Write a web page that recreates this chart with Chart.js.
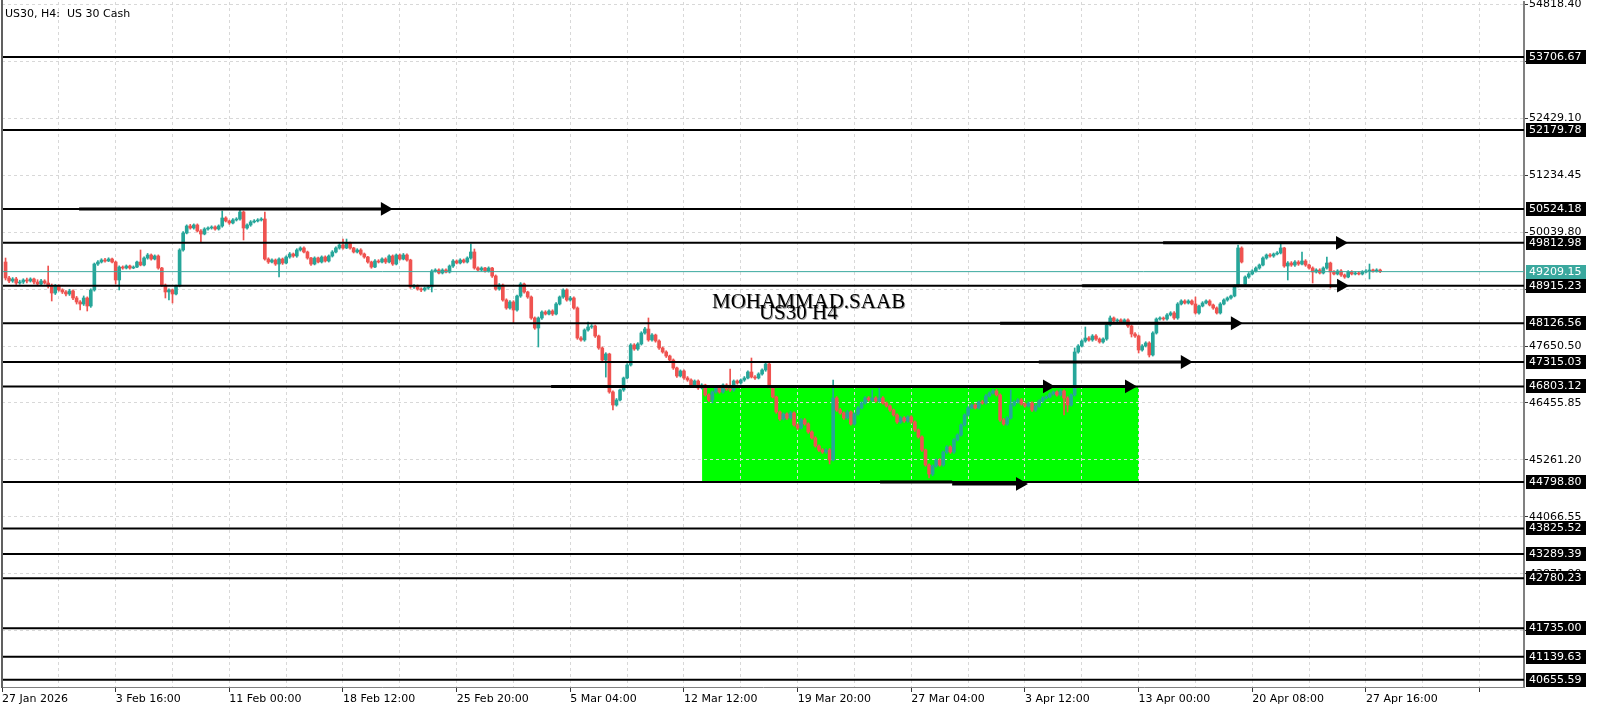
<!DOCTYPE html>
<html lang="en">
<head>
  <title>US30, H4</title>
  <meta charset="utf-8">
  <script src="https://cdn.jsdelivr.net/npm/chart.js@4.4.1/dist/chart.umd.min.js"></script>
  <style>
    body { margin: 0; background: #fff; }
    canvas { display: block; }
  </style>
</head>
<body>
  <canvas id="chart" width="1600" height="711"></canvas>
  <script>
    // H4 candles (bar 1 = first candle on the left)
    var opens = [49411,49076,49013,49055,48971,48992,49034,49013,49055,48992,
      48950,49013,48971,48908,48761,48908,48825,48783,48741,48804,
      48657,48573,48531,48657,48489,48825,49369,49411,49453,49432,
      49474,49411,49034,49306,49285,49327,49285,49306,49411,49348,
      49495,49558,49474,49537,49285,48929,48783,48825,48741,48908,
      49663,50019,50166,50124,50187,50061,49998,50103,50124,50145,
      50103,50166,50334,50271,50229,50292,50313,50459,50124,50187,
      50250,50271,50292,50313,49474,49411,49453,49369,49474,49390,
      49516,49579,49537,49663,49705,49621,49495,49369,49495,49411,
      49516,49432,49537,49621,49705,49768,49705,49810,49705,49621,
      49663,49579,49516,49411,49306,49432,49411,49474,49411,49537,
      49369,49558,49474,49558,49453,48887,48908,48845,48825,48866,
      48887,49222,49244,49181,49244,49202,49327,49432,49390,49453,
      49411,49495,49621,49285,49244,49285,49223,49285,49118,48845,
      48929,48615,48447,48573,48405,48698,48950,48783,48678,48238,
      48028,48238,48363,48321,48384,48321,48531,48678,48825,48615,
      48657,48447,47818,47777,47986,48049,48070,47860,47609,47357,
      47483,46687,46414,46519,46729,46980,47252,47672,47588,47693,
      47923,48007,47777,47881,47756,47609,47525,47441,47357,47190,
      47022,47127,46980,46938,46833,46917,46771,46833,46624,46519,
      46687,46771,46687,46833,46750,46729,46917,46875,46938,46980,
      47106,47001,46980,47064,47148,47273,46792,46582,46268,46121,
      46226,46142,46247,45995,45932,46100,46016,45848,45723,45555,
      45471,45429,45471,45261,46561,46309,46247,46142,46268,46016,
      46226,46351,46456,46561,46519,46561,46498,46561,46456,46393,
      46309,46205,46058,46142,46079,46163,46058,45890,45744,45471,
      45156,44967,45135,45261,45156,45429,45534,45429,45681,45786,
      45995,46205,46351,46414,46351,46477,46456,46603,46666,46708,
      46624,46100,46016,46142,46414,46477,46519,46435,46393,46456,
      46309,46393,46498,46561,46582,46645,46687,46624,46708,46561,
      46414,46624,47525,47651,47756,47818,47777,47860,47797,47735,
      47797,48091,48238,48175,48196,48154,48196,48070,47902,47860,
      47567,47651,47714,47462,47923,48217,48238,48217,48301,48343,
      48238,48531,48594,48552,48594,48531,48343,48489,48552,48594,
      48510,48447,48343,48531,48615,48657,48699,48908,49705,48950,
      49097,49160,49223,49285,49348,49495,49558,49537,49579,49600,
      49705,49327,49390,49348,49411,49369,49432,49348,49285,49202,
      49244,49181,49285,49390,49202,49160,49223,49139,49097,49202,
      49160,49181,49160,49202,49223,49244,49223,49244];

    var highs = [49495,49110,49085,49090,49030,49060,49075,49080,49075,49040,
      49050,49040,49327,48950,48940,48935,48850,48810,48840,48830,
      48690,48600,48700,48680,48850,49390,49440,49480,49490,49500,
      49495,49430,49330,49330,49350,49345,49330,49430,49663,49520,
      49590,49580,49560,49560,49300,48950,48850,48845,48930,49690,
      50050,50190,50200,50210,50210,50090,50130,50150,50170,50170,
      50190,50480,50360,50290,50320,50340,50501,50480,50210,50280,
      50300,50320,50340,50459,49500,49480,49475,49500,49495,49540,
      49610,49600,49690,49730,49730,49640,49510,49520,49515,49540,
      49540,49560,49650,49730,49800,49893,49893,49830,49720,49690,
      49690,49600,49530,49430,49460,49460,49500,49500,49560,49560,
      49580,49580,49590,49580,49470,48940,48930,48870,48890,48910,
      49250,49270,49270,49270,49270,49350,49460,49455,49480,49475,
      49520,49789,49684,49310,49310,49300,49310,49300,49140,48960,
      48950,48640,48600,48600,48720,48980,48970,48800,48700,48260,
      48260,48390,48390,48410,48410,48560,48700,48850,48850,48690,
      48680,48470,47850,48010,48154,48100,48090,47880,47630,47510,
      47500,46710,46550,46750,47000,47280,47700,47700,47720,47950,
      48040,48238,47910,47900,47780,47630,47550,47460,47380,47210,
      47150,47150,47010,46960,46940,46940,46860,46850,46650,46710,
      46800,46800,46860,46860,47169,46940,46940,46960,47010,47130,
      47399,47030,47090,47170,47300,47300,46810,46600,46290,46250,
      46250,46280,46270,46020,46130,46130,46040,45870,45750,45580,
      45500,45500,45500,46938,46590,46340,46270,46300,46290,46250,
      46380,46480,46590,46590,46729,46590,46771,46590,46480,46420,
      46330,46230,46170,46170,46190,46190,46080,45910,45770,45490,
      45180,45160,45290,45290,45450,45560,45560,45710,45810,46020,
      46230,46380,46440,46440,46500,46510,46630,46690,46740,46740,
      46650,46130,46170,46729,46500,46550,46550,46460,46480,46480,
      46420,46520,46590,46610,46670,46710,46710,46740,46730,46590,
      46650,47609,47680,47780,48049,47850,47890,47890,47820,47820,
      48120,48280,48260,48220,48220,48220,48220,48090,47930,47880,
      47680,47740,47740,47950,48240,48260,48260,48330,48370,48370,
      48560,48620,48620,48620,48620,48678,48510,48580,48620,48620,
      48530,48470,48560,48640,48680,48720,48930,49768,49730,49120,
      49190,49250,49310,49370,49520,49580,49590,49600,49630,49810,
      49720,49420,49420,49440,49440,49621,49460,49370,49310,49270,
      49270,49310,49516,49410,49230,49250,49250,49160,49230,49230,
      49210,49210,49230,49250,49369,49265,49270,49265];

    var lows = [49034,48980,48985,48940,48945,48960,48975,48990,48950,48915,
      48930,48950,48866,48594,48730,48800,48750,48700,48710,48620,
      48530,48405,48500,48384,48460,48800,49340,49390,49410,49420,
      49390,48950,48825,49260,49265,49260,49270,49290,49330,49330,
      49470,49450,49455,49260,48900,48657,48615,48552,48720,48890,
      49640,50000,50100,50100,50040,49830,49980,50080,50100,50080,
      50080,50140,50250,50200,50210,50270,50290,49873,50100,50160,
      50230,50250,50270,49450,49380,49390,49340,49097,49360,49370,
      49490,49510,49510,49640,49600,49470,49340,49350,49390,49390,
      49410,49410,49515,49600,49680,49680,49690,49680,49600,49600,
      49555,49490,49385,49280,49290,49390,49390,49380,49390,49340,
      49350,49450,49455,49430,48860,48860,48820,48790,48800,48840,
      48783,49200,49160,49160,49180,49180,49300,49370,49370,49390,
      49390,49470,49260,49220,49220,49200,49200,49090,48820,48820,
      48590,48420,48420,48133,48380,48670,48760,48650,48210,48000,
      47630,48210,48300,48300,48290,48300,48510,48650,48590,48590,
      48420,47790,47750,47750,47960,48020,47830,47580,47330,46999,
      46660,46309,46390,46500,46700,46960,47230,47560,47560,47670,
      47900,47750,47750,47730,47580,47500,47410,47330,47160,46990,
      47000,46950,46910,46800,46810,46740,46750,46600,46490,46456,
      46660,46660,46660,46720,46700,46700,46850,46850,46910,46960,
      46980,46950,46960,47040,47120,46770,46560,46240,46090,46100,
      46110,46120,45970,45900,45910,45990,45820,45700,45530,45440,
      45400,45400,45178,45240,46280,46220,46110,46120,45990,45990,
      46200,46330,46430,46490,46490,46470,46470,46430,46370,46280,
      46180,46030,46030,46050,46050,46030,45860,45720,45440,45130,
      44884,44930,45110,45130,45130,45400,45400,45400,45660,45760,
      45970,46180,46330,46330,46330,46430,46430,46580,46640,46600,
      46070,45990,45990,46120,46390,46450,46410,46370,46370,46280,
      46280,46370,46470,46540,46560,46620,46600,46600,46205,46268,
      46390,46600,47500,47630,47730,47750,47750,47770,47710,47710,
      47770,48070,48150,48150,48130,48130,48040,47839,47830,47504,
      47540,47630,47420,47440,47900,48190,48190,48190,48280,48210,
      48210,48510,48530,48530,48510,48320,48320,48470,48530,48490,
      48420,48320,48320,48510,48590,48630,48680,48890,49390,48930,
      49070,49140,49200,49260,49330,49470,49510,49510,49560,49580,
      49300,49034,49320,49320,49340,49350,49320,49260,48971,49180,
      49160,49160,49260,48866,49140,49140,49110,49070,49080,49140,
      49140,49140,49140,49180,49055,49200,49200,49190];

    var closes = [49076,49013,49055,48971,48992,49034,49013,49055,48992,48950,
      49013,48971,48908,48761,48908,48825,48783,48741,48804,48657,
      48573,48531,48657,48489,48825,49369,49411,49453,49432,49474,
      49411,49034,49306,49285,49327,49285,49306,49411,49348,49495,
      49558,49474,49537,49285,48929,48783,48825,48741,48908,49663,
      50019,50166,50124,50187,50061,49998,50103,50124,50145,50103,
      50166,50334,50271,50229,50292,50313,50459,50124,50187,50250,
      50271,50292,50313,49474,49411,49453,49369,49474,49390,49516,
      49579,49537,49663,49705,49621,49495,49369,49495,49411,49516,
      49432,49537,49621,49705,49768,49705,49810,49705,49621,49663,
      49579,49516,49411,49306,49432,49411,49474,49411,49537,49369,
      49558,49474,49558,49453,48887,48908,48845,48825,48866,48887,
      49222,49244,49181,49244,49202,49327,49432,49390,49453,49411,
      49495,49621,49285,49244,49285,49223,49285,49118,48845,48929,
      48615,48447,48573,48405,48698,48950,48783,48678,48238,48028,
      48238,48363,48321,48384,48321,48531,48678,48825,48615,48657,
      48447,47818,47777,47986,48049,48070,47860,47609,47357,47483,
      46687,46414,46519,46729,46980,47252,47672,47588,47693,47923,
      48007,47777,47881,47756,47609,47525,47441,47357,47190,47022,
      47127,46980,46938,46833,46917,46771,46833,46624,46519,46687,
      46771,46687,46833,46750,46729,46917,46875,46938,46980,47106,
      47001,46980,47064,47148,47273,46792,46582,46268,46121,46226,
      46142,46247,45995,45932,46100,46016,45848,45723,45555,45471,
      45429,45471,45261,46561,46309,46247,46142,46268,46016,46226,
      46351,46456,46561,46519,46561,46498,46561,46456,46393,46309,
      46205,46058,46142,46079,46163,46058,45890,45744,45471,45156,
      44967,45135,45261,45156,45429,45534,45429,45681,45786,45995,
      46205,46351,46414,46351,46477,46456,46603,46666,46708,46624,
      46100,46016,46142,46414,46477,46519,46435,46393,46456,46309,
      46393,46498,46561,46582,46645,46687,46624,46708,46561,46414,
      46624,47525,47651,47756,47818,47777,47860,47797,47735,47797,
      48091,48238,48175,48196,48154,48196,48070,47902,47860,47567,
      47651,47714,47462,47923,48217,48238,48217,48301,48343,48238,
      48531,48594,48552,48594,48531,48343,48489,48552,48594,48510,
      48447,48343,48531,48615,48657,48699,48908,49705,49411,49097,
      49160,49223,49285,49348,49495,49558,49537,49579,49600,49705,
      49327,49390,49348,49411,49369,49432,49348,49285,49202,49244,
      49181,49285,49390,49202,49160,49223,49139,49097,49202,49160,
      49181,49160,49202,49223,49244,49223,49244,49209.15];

    // time axis labels, one every 32 bars
    var timeLabels = ['27 Jan 2026', '3 Feb 16:00', '11 Feb 00:00', '18 Feb 12:00', '25 Feb 20:00',
      '5 Mar 04:00', '12 Mar 12:00', '19 Mar 20:00', '27 Mar 04:00', '3 Apr 12:00',
      '13 Apr 00:00', '20 Apr 08:00', '27 Apr 16:00'];
    var priceTicks = [54818.40, 53623.75, 52429.10, 51234.45, 50039.80, 48845.15, 47650.50,
      46455.85, 45261.20, 44066.55, 42871.90, 41677.25];

    // horizontal lines drawn on the chart
    var levels = [53706.67, 52179.78, 50524.18, 49812.98, 48915.23, 48126.56, 47315.03, 46803.12,
      44798.80, 43825.52, 43289.39, 42780.23, 41735.00, 41139.63, 40655.59];
    var lastPrice = 49209.15;

    // arrow trend lines: start bar, end bar, price, with head or not
    var arrowFrom = [21.7, 154.6, 226.4, 247.2, 267.5, 281.0, 291.9, 304.1, 326.9];
    var arrowTo = [107.8, 294.2, 317.3, 267.5, 286.6, 347.1, 333.0, 377.0, 376.7];
    var arrowPrice = [50524.18, 46803.12, 46803.12, 44798.80, 44760, 48126.56, 47315.03, 48915.23, 49812.98];
    var arrowHead = [1, 1, 1, 0, 1, 1, 1, 1, 1];

    // green zone
    var zoneBars = [197.1, 320.1];
    var zonePrices = [46803.12, 44798.80];

    var upColor = '#26a69a';
    var downColor = '#ef5350';
    var xMax = 428.5;

    var candleColors = closes.map(function(c, i) { return c >= opens[i] ? upColor : downColor; });

    var datasets = [];
    datasets.push({
      type: 'bar',
      data: closes.map(function(c, i) { return {x: i + 1, y: [lows[i], highs[i]]}; }),
      backgroundColor: candleColors,
      barThickness: 1,
      grouped: false,
      order: 5
    });
    datasets.push({
      type: 'bar',
      data: closes.map(function(c, i) { return {x: i + 1, y: [opens[i], c]}; }),
      backgroundColor: candleColors,
      barThickness: 3,
      minBarLength: 1,
      grouped: false,
      order: 4
    });
    datasets.push({
      type: 'line',
      data: [{x: 0, y: lastPrice}, {x: xMax, y: lastPrice}],
      borderColor: '#3aa89e',
      borderWidth: 1,
      pointRadius: 0,
      order: 3
    });
    levels.forEach(function(lv) {
      datasets.push({
        type: 'line',
        data: [{x: 0, y: lv}, {x: xMax, y: lv}],
        borderColor: '#000',
        borderWidth: 2,
        pointRadius: 0,
        order: 2
      });
    });
    arrowFrom.forEach(function(a, k) {
      datasets.push({
        type: 'line',
        data: [{x: a, y: arrowPrice[k]}, {x: arrowTo[k], y: arrowPrice[k]}],
        borderColor: '#000',
        borderWidth: 3,
        pointStyle: 'triangle',
        pointRotation: 90,
        pointRadius: [0, arrowHead[k] ? 8 : 0],
        pointBackgroundColor: '#000',
        pointBorderWidth: 0,
        order: 1
      });
    });

    var zone = {
      id: 'zone',
      beforeDraw: function(chart) {
        var x = chart.scales.x, y = chart.scales.y, ctx = chart.ctx;
        var x0 = x.getPixelForValue(zoneBars[0]), x1 = x.getPixelForValue(zoneBars[1]);
        var y0 = y.getPixelForValue(zonePrices[0]), y1 = y.getPixelForValue(zonePrices[1]);
        ctx.save();
        ctx.fillStyle = '#00ff00';
        ctx.fillRect(x0, y0, x1 - x0, y1 - y0);
        ctx.restore();
      }
    };

    var notes = {
      id: 'notes',
      afterDatasetsDraw: function(chart) {
        var x = chart.scales.x, y = chart.scales.y, ctx = chart.ctx;
        ctx.save();
        ctx.font = '21px "Liberation Serif"';
        ctx.textBaseline = 'alphabetic';
        var t1x = x.getPixelForValue(199.9), t1y = y.getPixelForValue(48447);
        var t2x = x.getPixelForValue(213.1), t2y = y.getPixelForValue(48217);
        ctx.fillStyle = '#9a9a9a';
        ctx.fillText('MOHAMMAD.SAAB', t1x + 1, t1y + 1);
        ctx.fillText('US30 H4', t2x + 1, t2y + 1);
        ctx.fillStyle = '#000';
        ctx.fillText('MOHAMMAD.SAAB', t1x, t1y);
        ctx.fillText('US30 H4', t2x, t2y);
        ctx.restore();
      },
      afterDraw: function(chart) {
        var y = chart.scales.y, ctx = chart.ctx, area = chart.chartArea;
        ctx.save();
        // frame on the left
        ctx.fillStyle = '#606060';
        ctx.fillRect(1, 0, 2, area.bottom + 1);
        // price boxes on the axis
        ctx.font = '11px "DejaVu Sans"';
        ctx.textBaseline = 'middle';
        levels.concat([lastPrice]).forEach(function(lv, k) {
          var py = Math.round(y.getPixelForValue(lv));
          ctx.fillStyle = k === levels.length ? '#3aa89e' : '#000';
          ctx.fillRect(area.right + 2, py - 7, 60, 14);
          ctx.fillStyle = '#fff';
          ctx.fillText(lv.toFixed(2), area.right + 5, py + 0.5);
        });
        ctx.fillStyle = '#000';
        ctx.textBaseline = 'alphabetic';
        ctx.fillText('US30, H4:  US 30 Cash', 5, 16.5);
        ctx.restore();
      }
    };

    var ctx = document.getElementById('chart').getContext('2d');
    var chart = new Chart(ctx, {
      type: 'bar',
      data: { datasets: datasets },
      options: {
        responsive: false,
        devicePixelRatio: 1,
        animation: false,
        events: [],
        layout: { autoPadding: false, padding: { left: 2, top: 2, right: 0, bottom: 0 } },
        plugins: { legend: { display: false }, tooltip: { enabled: false } },
        scales: {
          x: {
            type: 'linear',
            min: 0,
            max: xMax,
            offset: false,
            afterBuildTicks: function(scale) {
              var t = [];
              for (var v = 0; v <= 416; v += 16) t.push({value: v});
              scale.ticks = t;
            },
            afterFit: function(scale) {
              scale.height = 24;
              scale.paddingLeft = 0;
              scale.paddingRight = 0;
            },
            ticks: {
              autoSkip: false,
              maxRotation: 0,
              minRotation: 0,
              align: 'start',
              padding: 1,
              color: '#000',
              font: { family: 'DejaVu Sans', size: 11 },
              callback: function(value) {
                if (value % 32 !== 0) return '';
                return timeLabels[value / 32] || '';
              }
            },
            grid: {
              offset: false,
              color: '#d8d8d8',
              tickLength: 5,
              tickColor: function(c) { return c.tick && c.tick.value % 32 === 0 ? '#333' : 'rgba(0,0,0,0)'; }
            },
            border: { color: '#808080', width: 1, dash: [3, 3] }
          },
          y: {
            type: 'linear',
            position: 'right',
            min: 40503,
            max: 54861,
            afterBuildTicks: function(scale) {
              scale.ticks = priceTicks.map(function(v) { return {value: v}; });
            },
            afterFit: function(scale) {
              scale.width = 76;
              scale.paddingTop = 0;
              scale.paddingBottom = 0;
            },
            ticks: {
              autoSkip: false,
              padding: 1,
              color: '#000',
              font: { family: 'DejaVu Sans', size: 11 },
              callback: function(value) { return value.toFixed(2); }
            },
            grid: { color: '#d8d8d8', tickLength: 4, tickColor: '#333' },
            border: { color: '#808080', width: 2, dash: [3, 3] }
          }
        }
      },
      plugins: [zone, notes]
    });
  </script>
</body>
</html>
